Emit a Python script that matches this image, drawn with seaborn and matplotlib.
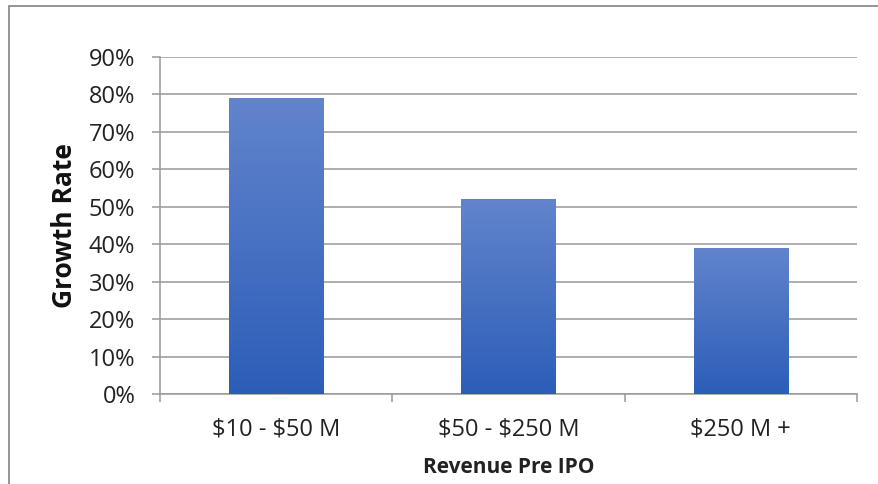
import matplotlib
matplotlib.use("Agg")
import matplotlib.pyplot as plt
import seaborn as sns
import numpy as np
import pandas as pd
from matplotlib.colors import LinearSegmentedColormap
from matplotlib.patches import Rectangle

# Data
categories = ["$10 - $50 M", "$50 - $250 M", "$250 M +"]
growth = [0.79, 0.52, 0.39]
y_ticks = [0, 0.1, 0.2, 0.3, 0.4, 0.5, 0.6, 0.7, 0.8, 0.9]

df = pd.DataFrame({"revenue": categories, "growth": growth})

sns.set_theme(style="white")
plt.rcParams["font.family"] = ["Open Sans", "DejaVu Sans"]
plt.rcParams["text.parse_math"] = False

fig = plt.figure(figsize=(8.79, 4.84), dpi=100)
ax = fig.add_axes([160 / 879, 1 - 394 / 484, (857 - 160) / 879, (394 - 57) / 484])

sns.barplot(data=df, x="revenue", y="growth", ax=ax, width=0.405,
            color="#3f6cc4", saturation=1, zorder=3)

# gradient fill for each bar (lighter top, darker bottom)
cmap = LinearSegmentedColormap.from_list("bar", ["#2c5eb8", "#6284cc"])
grad = np.linspace(0, 1, 256).reshape(-1, 1)
for p in ax.patches:
    x0, y0 = p.get_x(), p.get_y()
    w, h = p.get_width(), p.get_height()
    im = ax.imshow(grad, cmap=cmap, origin="lower", aspect="auto",
                   extent=[x0, x0 + w, y0, y0 + h], zorder=3)
    im.set_clip_path(p)
    p.set_facecolor("none")
    p.set_edgecolor("none")

ax.set_xlim(-0.5, 2.5)
ax.set_ylim(0, 0.9)
ax.set_yticks(y_ticks)
ax.set_yticklabels([f"{int(round(t * 100))}%" for t in y_ticks], fontsize=17, color="#222222")
ax.yaxis.grid(True, color="#999999", linewidth=1.1, zorder=0)
ax.set_axisbelow(True)

for s in ["top", "right"]:
    ax.spines[s].set_visible(False)
for s in ["left", "bottom"]:
    ax.spines[s].set_color("#999999")
    ax.spines[s].set_linewidth(1.1)

ax.tick_params(axis="y", length=5.8, width=1.1, color="#999999", left=True, pad=12)
# category boundary ticks on x axis
ax.set_xticks([-0.5, 0.5, 1.5, 2.5], minor=False)
ax.set_xticklabels([])
ax.set_xticks([0, 1, 2], minor=True)
ax.set_xticklabels(categories, minor=True, fontsize=17, color="#222222")
ax.tick_params(axis="x", which="major", length=5.8, width=1.1, color="#999999", bottom=True)
ax.tick_params(axis="x", which="minor", length=0, pad=17)

ax.set_xlabel("Revenue Pre IPO", fontsize=15, fontweight="bold", color="#222222", labelpad=11)
ax.set_ylabel("Growth Rate", fontsize=19, fontweight="bold", color="#111111", labelpad=8)

# outer chart border (extends past the right and bottom edges)
fig.patches.append(Rectangle((9 / 879, -0.1), 1.0, 1 - 6 / 484 + 0.1,
                             transform=fig.transFigure, fill=False,
                             edgecolor="#8c8c8c", linewidth=1.3))

fig.savefig("out.png", dpi=100, facecolor="white")
